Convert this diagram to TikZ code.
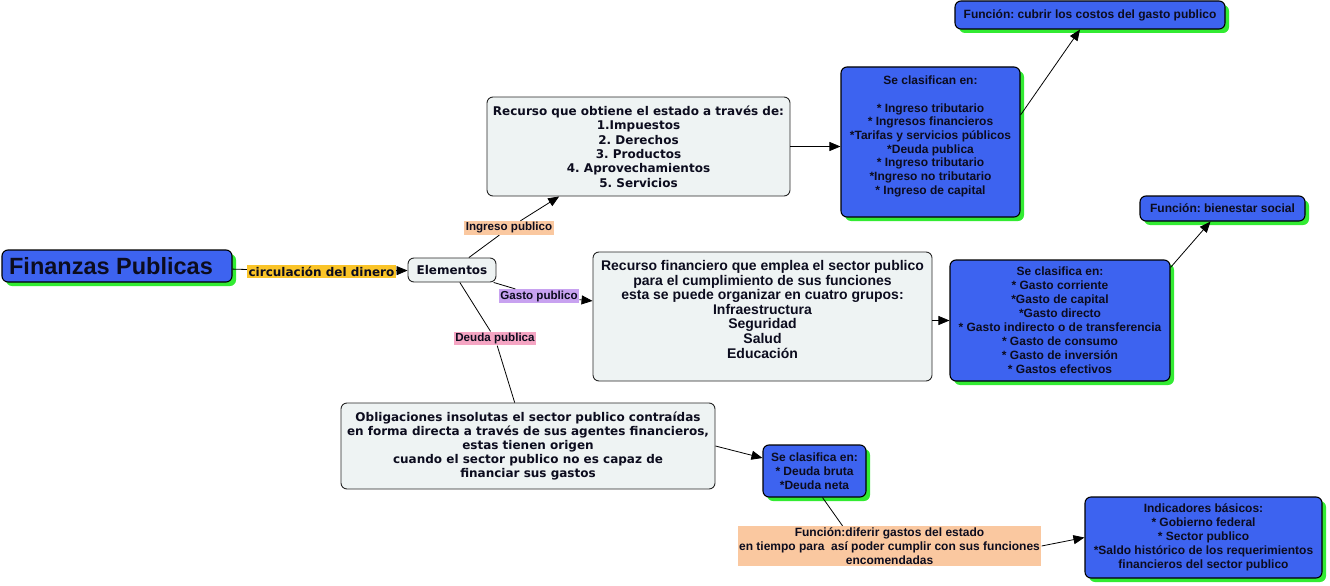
\documentclass[tikz,border=0pt]{standalone}
\usepackage{fontspec}
\setmainfont{Liberation Sans}
\newfontfamily\verd{DejaVu Sans}
\usetikzlibrary{arrows.meta,shadows}
\frenchspacing
\definecolor{boxblue}{RGB}{61,99,240}
\definecolor{shgreen}{RGB}{50,235,50}
\definecolor{lightbox}{RGB}{238,243,243}
\definecolor{circcol}{RGB}{250,196,40}
\definecolor{peach}{RGB}{250,200,160}
\definecolor{lavender}{RGB}{200,162,240}
\definecolor{pinkl}{RGB}{245,165,195}
\definecolor{txtdark}{RGB}{12,12,30}
\tikzset{
  base/.style={rounded corners=6pt, draw=black, line width=1.1pt, align=center,
    inner sep=2pt, anchor=center, text=txtdark},
  bluebox/.style={base, fill=boxblue,
    general shadow={fill=shgreen, shadow xshift=4pt, shadow yshift=-4pt},
    font=\bfseries\fontsize{12}{13.9}\selectfont},
  lightnode/.style={base, fill=lightbox, line width=0.9pt, draw=black!85,
    font=\verd\bfseries\fontsize{12}{14.4}\selectfont},
  lbl/.style={inner sep=1.5pt, anchor=center, text=txtdark,
    font=\bfseries\fontsize{11.6}{13}\selectfont},
  conn/.style={line width=0.8pt, draw=black},
  arr/.style={conn, -{Triangle[length=11pt,width=9pt]}},
}
\begin{document}
\begin{tikzpicture}[x=1pt,y=-1pt]
\useasboundingbox (0,0) rectangle (1330,586);
% main nodes
\node[bluebox, minimum width=230pt, minimum height=32pt,
      font=\bfseries\fontsize{23.5}{26}\selectfont, text=txtdark] (fin) at (117,266) {Finanzas Publicas\hspace{12pt}};
\node[lightnode, minimum width=88pt, minimum height=24pt] (elem) at (452,270) {Elementos};
\node[lightnode, minimum width=303pt, minimum height=99pt] (rec1) at (638.5,146.5)
  {Recurso que obtiene el estado a través de:\\1.Impuestos\\2. Derechos\\3. Productos\\4. Aprovechamientos\\5. Servicios};
\node[bluebox, minimum width=179pt, minimum height=150pt, font=\bfseries\fontsize{12}{13.7}\selectfont] (cls1) at (930.5,142)
  {Se clasifican en:\\ \\* Ingreso tributario\\* Ingresos financieros\\*Tarifas y servicios públicos\\*Deuda publica\\* Ingreso tributario\\*Ingreso no tributario\\* Ingreso de capital\\ \mbox{}};
\node[bluebox, minimum width=270pt, minimum height=28pt] (fun1) at (1090,15) {Función: cubrir los costos del gasto publico};
\node[lightnode, minimum width=339pt, minimum height=129pt,
      font=\bfseries\fontsize{14}{14.6}\selectfont] (rec2) at (762.5,316.5)
  {Recurso financiero que emplea el sector publico\\para el cumplimiento de sus funciones\\esta se puede organizar en cuatro grupos:\\Infraestructura\\Seguridad\\Salud\\Educación\\ \mbox{}};
\node[bluebox, minimum width=220pt, minimum height=121pt, font=\bfseries\fontsize{12}{14}\selectfont] (cls2) at (1060,320.5)
  {Se clasifica en:\\* Gasto corriente\\*Gasto de capital\\*Gasto directo\\* Gasto indirecto o de transferencia\\* Gasto de consumo\\* Gasto de inversión\\* Gastos efectivos};
\node[bluebox, minimum width=165pt, minimum height=25pt] (fun2) at (1222.5,208.5) {Función: bienestar social};
\node[lightnode, minimum width=374pt, minimum height=86pt, font=\verd\bfseries\fontsize{12}{14.2}\selectfont] (obl) at (528,446)
  {Obligaciones insolutas el sector publico contraídas\\en forma directa a través de sus agentes financieros,\\estas tienen origen\\cuando el sector publico no es capaz de\\financiar sus gastos};
\node[bluebox, minimum width=103pt, minimum height=52pt] (cls3) at (814.5,471)
  {Se clasifica en:\\* Deuda bruta\\*Deuda neta};
\node[bluebox, minimum width=237pt, minimum height=81pt] (ind) at (1203.5,537.5)
  {Indicadores básicos:\\* Gobierno federal\\* Sector publico\\*Saldo histórico de los requerimientos\\financieros del sector publico};
% labels
\node[lbl, fill=circcol, font=\verd\bfseries\fontsize{12}{13}\selectfont] (circ) at (321.5,271.5) {circulación del dinero};
\node[lbl, fill=peach] (ingL) at (509,228) {Ingreso publico};
\node[lbl, fill=lavender] (gasL) at (539,296) {Gasto publico};
\node[lbl, fill=pinkl] (deuL) at (495,338.5) {Deuda publica};
\node[lbl, fill=peach, minimum width=301pt, minimum height=40pt, align=center,
      font=\bfseries\fontsize{12}{14}\selectfont] (funL) at (889.5,546)
  {Función:diferir gastos del estado\\en tiempo para\ \ así poder cumplir con sus funciones\\encomendadas};
% connectors
\draw[conn] (fin) -- (circ);
\draw[arr] (circ) -- (elem);
\draw[conn] (elem) -- (ingL);
\draw[arr] (ingL) -- (rec1);
\draw[conn] (elem) -- (gasL);
\draw[arr] (gasL) -- (rec2);
\draw[conn] (elem) -- (deuL);
\draw[conn] (deuL) -- (obl);
\draw[arr] (rec1.east) -- (rec1.east -| cls1.west);
\draw[arr] ([yshift=27pt]cls1.east) -- ([xshift=-10pt]fun1.south);
\draw[arr] (cls2.west -| rec2.east) -- (cls2.west);
\draw[arr] ([yshift=-8pt]cls2.north east) -- ([xshift=-12pt]fun2.south);
\draw[arr] (obl.east) -- ([yshift=13pt]cls3.west);
\draw[conn] ([xshift=8pt]cls3.south) -- ([xshift=-47pt]funL.north);
\draw[arr] (funL.east) -- (ind.west);
\end{tikzpicture}
\end{document}
